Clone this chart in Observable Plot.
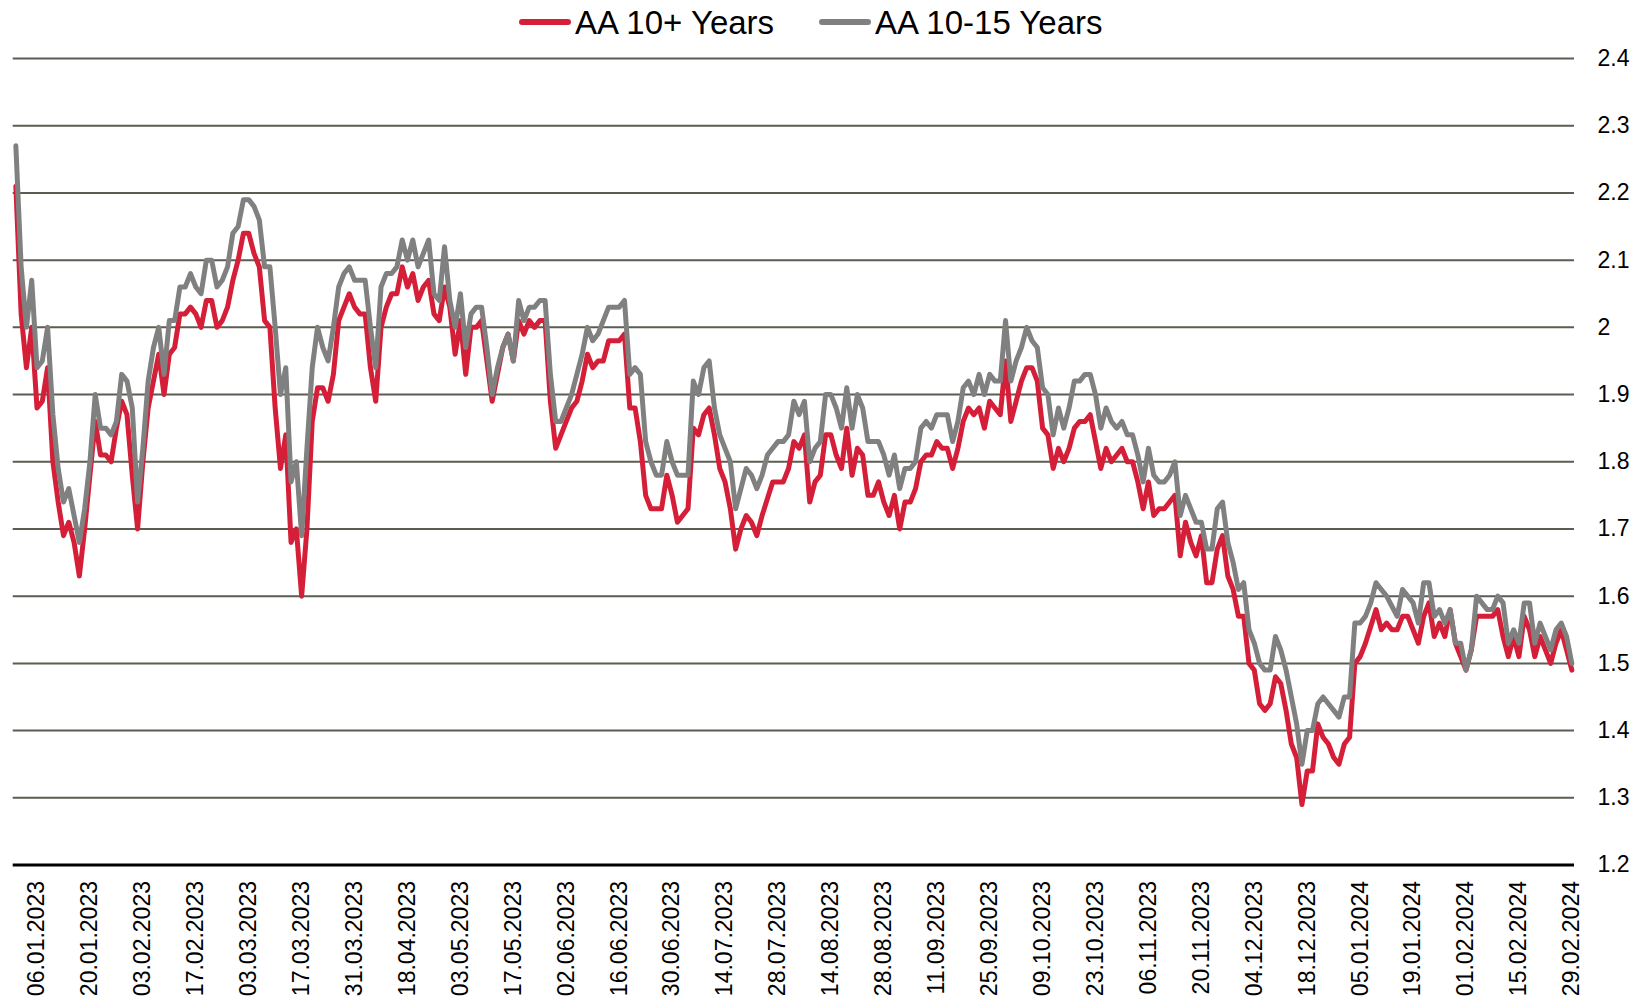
<!DOCTYPE html>
<html>
<head>
<meta charset="utf-8">
<script src="https://cdn.jsdelivr.net/npm/d3@7"></script>
<script src="https://cdn.jsdelivr.net/npm/@observablehq/plot@0.6"></script>
<style>
  html, body { margin: 0; padding: 0; background: #ffffff; }
  body { font-family: "Liberation Sans", Arial, sans-serif; width: 1634px; }
  #legend { position: relative; width: 1634px; height: 45px; }
  .sw { position: absolute; top: 19px; width: 52px; height: 6px; border-radius: 3px; }
  .lt { position: absolute; top: 0; height: 45px; line-height: 45px; font-size: 33px; color: #000; white-space: nowrap; }
  #chart svg { display: block; }
</style>
</head>
<body>
<div id="legend"></div>
<div id="chart"></div>
<script>
// ---- data ----
const seriesNames = ["AA 10+ Years", "AA 10-15 Years"];
const seriesColors = ["#d51f38", "#808080"];

const xTickLabels = ["06.01.2023","20.01.2023","03.02.2023","17.02.2023","03.03.2023","17.03.2023",
  "31.03.2023","18.04.2023","03.05.2023","17.05.2023","02.06.2023","16.06.2023","30.06.2023",
  "14.07.2023","28.07.2023","14.08.2023","28.08.2023","11.09.2023","25.09.2023","09.10.2023",
  "23.10.2023","06.11.2023","20.11.2023","04.12.2023","18.12.2023","05.01.2024","19.01.2024",
  "01.02.2024","15.02.2024","29.02.2024"];
const xTickPositions = [4,14,24,34,44,54,64,74,84,94,104,114,124,134,144,154,164,174,184,194,
  204,214,224,234,244,254,264,274,284,294];

const yTicks = [1.2,1.3,1.4,1.5,1.6,1.7,1.8,1.9,2.0,2.1,2.2,2.3,2.4];
const yTickLabels = ["1.2","1.3","1.4","1.5","1.6","1.7","1.8","1.9","2","2.1","2.2","2.3","2.4"];

// AA 10+ Years (one value per business day, 295 days)
const aa10plus = [
  2.21,2.02,1.94,2.00,1.88,1.89,1.94,1.80,1.74,1.69,
  1.71,1.68,1.63,1.70,1.78,1.86,1.81,1.81,1.80,1.85,
  1.89,1.87,1.78,1.70,1.80,1.88,1.92,1.96,1.90,1.96,
  1.97,2.02,2.02,2.03,2.02,2.00,2.04,2.04,2.00,2.01,
  2.03,2.07,2.10,2.14,2.14,2.11,2.09,2.01,2.00,1.88,
  1.79,1.84,1.68,1.70,1.60,1.70,1.86,1.91,1.91,1.89,
  1.93,2.01,2.03,2.05,2.03,2.02,2.02,1.94,1.89,2.00,
  2.03,2.05,2.05,2.09,2.06,2.08,2.04,2.06,2.07,2.02,
  2.01,2.06,2.03,1.96,2.01,1.93,2.00,2.00,2.01,1.95,
  1.89,1.93,1.97,1.99,1.95,2.01,1.99,2.01,2.00,2.01,
  2.01,1.89,1.82,1.84,1.86,1.88,1.89,1.92,1.96,1.94,
  1.95,1.95,1.98,1.98,1.98,1.99,1.88,1.88,1.83,1.75,
  1.73,1.73,1.73,1.78,1.75,1.71,1.72,1.73,1.85,1.84,
  1.87,1.88,1.84,1.79,1.77,1.73,1.67,1.70,1.72,1.71,
  1.69,1.72,1.745,1.77,1.77,1.77,1.79,1.83,1.82,1.84,
  1.74,1.77,1.78,1.84,1.84,1.81,1.79,1.85,1.78,1.82,
  1.81,1.75,1.75,1.77,1.74,1.72,1.75,1.70,1.74,1.74,
  1.76,1.80,1.81,1.81,1.83,1.82,1.82,1.79,1.82,1.86,
  1.88,1.87,1.88,1.85,1.89,1.88,1.87,1.95,1.86,1.89,
  1.92,1.94,1.94,1.92,1.85,1.84,1.79,1.82,1.80,1.82,
  1.85,1.86,1.86,1.87,1.83,1.79,1.82,1.80,1.81,1.82,
  1.80,1.80,1.77,1.73,1.77,1.72,1.73,1.73,1.74,1.75,
  1.66,1.71,1.68,1.66,1.69,1.62,1.62,1.67,1.69,1.63,
  1.61,1.57,1.57,1.50,1.49,1.44,1.43,1.44,1.48,1.47,
  1.43,1.38,1.36,1.29,1.34,1.34,1.41,1.39,1.38,1.36,
  1.35,1.38,1.39,1.50,1.51,1.53,1.555,1.58,1.55,1.56,
  1.55,1.55,1.57,1.57,1.55,1.53,1.57,1.59,1.54,1.56,
  1.54,1.58,1.53,1.51,1.49,1.52,1.57,1.57,1.57,1.57,
  1.58,1.54,1.51,1.54,1.51,1.57,1.55,1.51,1.54,1.52,
  1.50,1.53,1.55,1.52,1.49
];

// AA 10-15 Years
const aa1015 = [
  2.27,2.09,2.00,2.07,1.94,1.95,2.00,1.87,1.79,1.74,
  1.76,1.72,1.68,1.73,1.80,1.90,1.85,1.85,1.84,1.86,
  1.93,1.92,1.88,1.74,1.82,1.92,1.97,2.00,1.93,2.01,
  2.01,2.06,2.06,2.08,2.06,2.05,2.10,2.10,2.06,2.07,
  2.09,2.14,2.15,2.19,2.19,2.18,2.16,2.09,2.09,2.00,
  1.90,1.94,1.77,1.80,1.69,1.82,1.94,2.00,1.97,1.95,
  2.00,2.06,2.08,2.09,2.07,2.07,2.07,2.00,1.94,2.06,
  2.08,2.08,2.09,2.13,2.10,2.13,2.09,2.11,2.13,2.05,
  2.04,2.12,2.04,2.00,2.05,1.97,2.02,2.03,2.03,1.97,
  1.90,1.94,1.97,1.99,1.95,2.04,2.01,2.03,2.03,2.04,
  2.04,1.93,1.86,1.86,1.88,1.90,1.93,1.96,2.00,1.98,
  1.99,2.01,2.03,2.03,2.03,2.04,1.93,1.94,1.93,1.83,
  1.80,1.78,1.78,1.83,1.80,1.78,1.78,1.78,1.92,1.90,
  1.94,1.95,1.88,1.84,1.82,1.80,1.73,1.76,1.79,1.78,
  1.76,1.78,1.81,1.82,1.83,1.83,1.84,1.89,1.87,1.89,
  1.80,1.82,1.83,1.90,1.90,1.88,1.85,1.91,1.85,1.90,
  1.88,1.83,1.83,1.83,1.81,1.78,1.81,1.76,1.79,1.79,
  1.80,1.85,1.86,1.85,1.87,1.87,1.87,1.83,1.86,1.91,
  1.92,1.90,1.93,1.90,1.93,1.92,1.92,2.01,1.92,1.95,
  1.97,2.00,1.98,1.97,1.91,1.90,1.84,1.88,1.85,1.88,
  1.92,1.92,1.93,1.93,1.90,1.85,1.88,1.86,1.85,1.86,
  1.84,1.84,1.81,1.77,1.82,1.78,1.77,1.77,1.78,1.80,
  1.72,1.75,1.73,1.71,1.71,1.67,1.67,1.73,1.74,1.68,
  1.65,1.61,1.62,1.55,1.53,1.50,1.49,1.49,1.54,1.52,
  1.49,1.45,1.41,1.35,1.40,1.40,1.44,1.45,1.44,1.43,
  1.42,1.45,1.45,1.56,1.56,1.57,1.59,1.62,1.61,1.60,
  1.585,1.57,1.61,1.60,1.59,1.56,1.62,1.62,1.57,1.58,
  1.56,1.58,1.53,1.53,1.49,1.52,1.60,1.59,1.58,1.58,
  1.60,1.59,1.53,1.55,1.53,1.59,1.59,1.53,1.56,1.54,
  1.52,1.55,1.56,1.54,1.50
];

// ---- legend ----
const legend = document.getElementById("legend");
const legendLayout = [{sw: 519, tx: 575}, {sw: 819, tx: 875}];
seriesNames.forEach((name, k) => {
  const sw = document.createElement("div");
  sw.className = "sw";
  sw.style.left = legendLayout[k].sw + "px";
  sw.style.background = seriesColors[k];
  legend.appendChild(sw);
  const t = document.createElement("div");
  t.className = "lt";
  t.style.left = legendLayout[k].tx + "px";
  t.textContent = name;
  legend.appendChild(t);
});

// ---- chart ----
const rows10p = aa10plus.map((v, i) => ({i, v}));
const rows1015 = aa1015.map((v, i) => ({i, v}));
const labelOf = new Map(xTickPositions.map((p, k) => [p, xTickLabels[k]]));

const chart = Plot.plot({
  width: 1634,
  height: 958,
  marginLeft: 12.7,
  marginRight: 60,
  marginTop: 13,
  marginBottom: 138.5,
  style: {fontFamily: "'Liberation Sans', Arial, sans-serif", background: "#ffffff", overflow: "visible", color: "#000"},
  x: {type: "linear", domain: [-0.5, aa10plus.length - 0.5], axis: null},
  y: {type: "linear", domain: [1.2, 2.4], axis: null},
  marks: [
    Plot.ruleY(yTicks.slice(1), {stroke: "#5c5c52", strokeWidth: 2}),
    Plot.ruleY([yTicks[0]], {stroke: "#000000", strokeWidth: 3}),
    Plot.line(rows10p, {x: "i", y: "v", stroke: seriesColors[0], strokeWidth: 5, strokeLinejoin: "round", strokeLinecap: "round"}),
    Plot.line(rows1015, {x: "i", y: "v", stroke: seriesColors[1], strokeWidth: 5, strokeLinejoin: "round", strokeLinecap: "round"}),
    Plot.axisX(xTickPositions, {
      anchor: "bottom", label: null, tickSize: 0, tickPadding: 16, tickRotate: -90,
      tickFormat: d => labelOf.get(d), fontSize: 23, fill: "#000"
    }),
    Plot.axisY(yTicks, {
      anchor: "right", label: null, tickSize: 0, tickPadding: 23,
      tickFormat: d => yTickLabels[yTicks.indexOf(d)], fontSize: 23, fill: "#000"
    })
  ]
});
document.getElementById("chart").appendChild(chart);
</script>
</body>
</html>
